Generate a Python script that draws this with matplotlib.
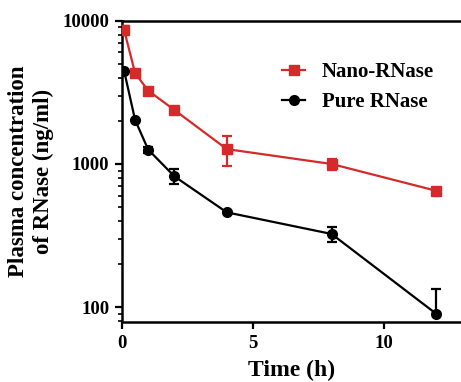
import numpy as np
import matplotlib
matplotlib.use("Agg")
import matplotlib.pyplot as plt

plt.rcParams['font.family'] = ['Liberation Serif', 'DejaVu Serif']
plt.rcParams['font.weight'] = 'bold'

# data
time = [0.083, 0.5, 1, 2, 4, 8, 12]
nano = [8600, 4300, 3250, 2380, 1270, 1000, 650]
nano_err = [600, 0, 0, 0, 300, 90, 0]
pure = [4450, 2030, 1260, 820, 460, 325, 90]
pure_err_lo = [0, 0, 60, 100, 0, 40, 0]
pure_err_hi = [0, 0, 60, 100, 0, 40, 45]

red = '#d42a2a'

fig = plt.figure(figsize=(4.61, 3.82), dpi=100)
ax = fig.add_axes([0.2646, 0.157, 0.7354, 0.789])

ax.errorbar(time, nano, yerr=nano_err, color=red, marker='s', ms=7, lw=1.6,
            capsize=3.5, capthick=1.6, elinewidth=1.6, label='Nano-RNase', zorder=3)
ax.errorbar(time, pure, yerr=[pure_err_lo, pure_err_hi], color='black', marker='o',
            ms=7, lw=1.6, capsize=3.5, capthick=1.6, elinewidth=1.6,
            label='Pure RNase', zorder=3)

ax.set_yscale('log')
ax.set_ylim(79, 10000)
ax.set_xlim(0, 12.94)
ax.set_xticks([0, 5, 10])
ax.set_yticks([100, 1000, 10000])
ax.set_yticklabels(['100', '1000', '10000'])
ax.tick_params(axis='both', which='major', direction='out', length=5, width=1.6,
               labelsize=13.5, pad=4)
ax.tick_params(axis='y', which='minor', direction='out', length=3, width=1.2)

for side in ['left', 'bottom', 'top']:
    ax.spines[side].set_linewidth(1.8)
ax.spines['right'].set_visible(False)
ax.spines['left'].set_bounds(82, 10000)

ax.set_xlabel('Time (h)', fontsize=17, fontweight='bold', labelpad=6)
ax.set_ylabel('Plasma concentration\nof RNase (ng/ml)', fontsize=16.5,
              fontweight='bold', labelpad=6, linespacing=1.25)

handles, labels = ax.get_legend_handles_labels()
handles = [h[0] for h in handles]
ax.legend(handles, labels, loc='upper right', bbox_to_anchor=(0.975, 0.925),
          frameon=False, prop={'size': 15, 'weight': 'bold'}, handlelength=1.1,
          handletextpad=0.8, labelspacing=0.5)

fig.savefig('out.png', dpi=100)
